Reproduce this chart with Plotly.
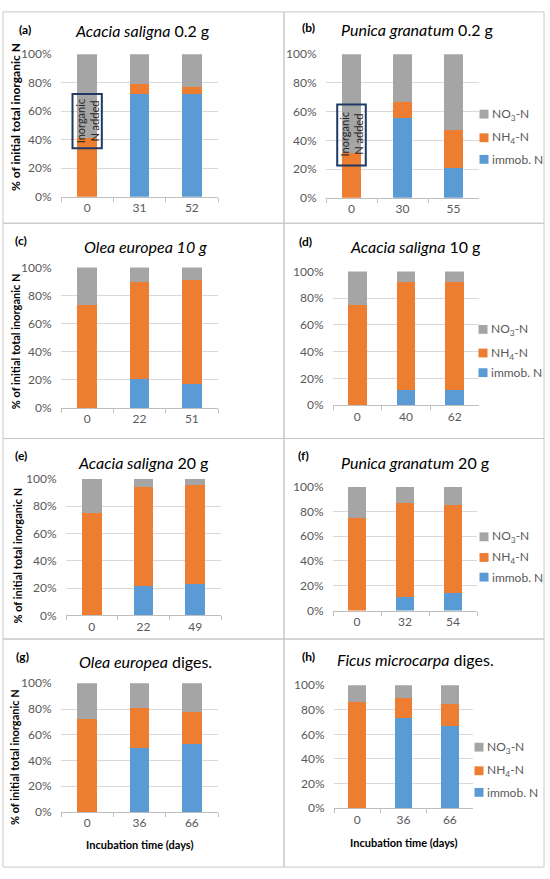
import plotly.graph_objects as go

# incubation days (categories) per panel
days_a = ["0", "31", "52"]
days_b = ["0", "30", "55"]
days_c = ["0", "22", "51"]
days_d = ["0", "40", "62"]
days_e = ["0", "22", "49"]
days_f = ["0", "32", "54"]
days_g = ["0", "36", "66"]
days_h = ["0", "36", "66"]

# % of initial total inorganic N
immob_a = [0, 72, 72]
nh4_a = [41, 7, 5]
no3_a = [59, 21, 23]

immob_b = [0, 55.5, 21]
nh4_b = [31, 11, 26.5]
no3_b = [69, 33.5, 52.5]

immob_c = [0, 21, 17]
nh4_c = [73, 69, 74]
no3_c = [27, 10, 9]

immob_d = [0, 11, 11]
nh4_d = [75, 81, 81]
no3_d = [25, 8, 8]

immob_e = [0, 21.5, 23]
nh4_e = [75, 72.5, 72.5]
no3_e = [25, 6, 4.5]

immob_f = [0, 11, 14.5]
nh4_f = [75, 76, 70.5]
no3_f = [25, 13, 15]

immob_g = [0, 50, 53]
nh4_g = [72, 31, 24.5]
no3_g = [28, 19, 22.5]

immob_h = [0, 73, 67]
nh4_h = [86, 17, 18]
no3_h = [14, 10, 15]

series_names = ["immob. N", "NH<sub>4</sub>-N", "NO<sub>3</sub>-N"]

W, H = 550, 879
FONT = "Lato"
C_IMMOB, C_NH4, C_NO3 = "#5B9BD5", "#ED7D31", "#A5A5A5"
TXT = "#595959"
GRID = "#D9D9D9"
FRAME = "#C8C8C8"


def fx(v):
    return v / W


def fy(v):
    return 1 - v / H


panels = [
    dict(tag="(a)", title="<i>Acacia saligna</i> 0.2 g", days=days_a,
         vals=(immob_a, nh4_a, no3_a), area=(61, 218, 47, 192),
         title_at=(142, 23), tag_at=(25, 22), ytitle=(15, 111, 12)),
    dict(tag="(b)", title="<i>Punica granatum</i> 0.2 g", days=days_b,
         vals=(immob_b, nh4_b, no3_b), area=(326, 479, 47, 193),
         title_at=(417, 22), tag_at=(308, 20), legend=(484, [108, 132, 154])),
    dict(tag="(c)", title="<i>Olea europea 10 g</i>", days=days_c,
         vals=(immob_c, nh4_c, no3_c), area=(61, 218, 264, 407),
         title_at=(145, 243), tag_at=(21, 237), ytitle=(15, 339, 11)),
    dict(tag="(d)", title="<i>Acacia saligna</i> 10 g", days=days_d,
         vals=(immob_d, nh4_d, no3_d), area=(333, 479, 268, 404),
         title_at=(415, 243), tag_at=(305, 238), legend=(483, [327, 351, 371])),
    dict(tag="(e)", title="<i>Acacia saligna</i> 20 g", days=days_e,
         vals=(immob_e, nh4_e, no3_e), area=(66, 221, 479, 618),
         title_at=(143, 462), tag_at=(21, 455), ytitle=(17, 557, 11)),
    dict(tag="(f)", title="<i>Punica granatum</i> 20 g", days=days_f,
         vals=(immob_f, nh4_f, no3_f), area=(333, 477, 487, 613),
         title_at=(415, 462), tag_at=(303, 455), legend=(484, [538, 559, 579])),
    dict(tag="(g)", title="<i>Olea europea</i> diges.", days=days_g,
         vals=(immob_g, nh4_g, no3_g), area=(61, 218, 687, 818),
         title_at=(145, 665), tag_at=(22, 660), ytitle=(15, 762, 11),
         xtitle=(140, 851)),
    dict(tag="(h)", title="<i>Ficus microcarpa</i> diges.", days=days_h,
         vals=(immob_h, nh4_h, no3_h), area=(334, 473, 689, 814),
         title_at=(415, 663), tag_at=(308, 660), legend=(479, [752, 776, 798]),
         xtitle=(403, 849)),
]

fig = go.Figure()
annotations = []
shapes = []

# cell frames
for x0, x1, y0, y1 in [(3, 284, 4, 219), (284, 544, 4, 219),
                       (3, 284, 219, 438), (284, 544, 219, 438),
                       (3, 284, 438, 642), (284, 544, 438, 642),
                       (3, 284, 642, 874), (284, 544, 642, 874)]:
    shapes.append(dict(type="rect", xref="paper", yref="paper",
                       x0=fx(x0), x1=fx(x1), y0=fy(y1), y1=fy(y0),
                       line=dict(color=FRAME, width=1)))

colors = [C_IMMOB, C_NH4, C_NO3]
for i, p in enumerate(panels):
    n = "" if i == 0 else str(i + 1)
    xa, ya = "x" + n, "y" + n
    for name, vals, col in zip(series_names, p["vals"], colors):
        fig.add_trace(go.Bar(x=p["days"], y=vals, name=name, marker_color=col,
                             marker_line_width=0, xaxis=xa, yaxis=ya,
                             showlegend=False, width=0.38))
    x0, x1, y0, y1 = p["area"]
    fig.layout["xaxis" + n] = dict(
        domain=[fx(x0), fx(x1)], anchor=ya, type="category",
        showline=True, linecolor="#BFBFBF", ticks="outside", tickson="boundaries",
        ticklen=4, tickcolor="#BFBFBF", showgrid=False,
        tickfont=dict(family=FONT, size=12, color=TXT))
    fig.layout["yaxis" + n] = dict(
        domain=[fy(y1), fy(y0)], anchor=xa, range=[0, 100], dtick=20,
        ticksuffix="%", showgrid=True, gridcolor=GRID, zeroline=False,
        showline=False, ticks="outside", ticklen=6, tickcolor="rgba(0,0,0,0)",
        tickfont=dict(family=FONT, size=12, color=TXT))

    annotations.append(dict(xref="paper", yref="paper", x=fx(p["title_at"][0]),
                            y=fy(p["title_at"][1]), text=p["title"], showarrow=False,
                            xanchor="center", yanchor="middle",
                            font=dict(family=FONT, size=16, color="#000000")))
    annotations.append(dict(xref="paper", yref="paper", x=fx(p["tag_at"][0]),
                            y=fy(p["tag_at"][1]), text="<b>" + p["tag"] + "</b>",
                            showarrow=False, xanchor="center", yanchor="middle",
                            font=dict(family=FONT, size=12, color="#000000")))
    if "ytitle" in p:
        tx, ty, ts = p["ytitle"]
        annotations.append(dict(xref="paper", yref="paper", x=fx(tx), y=fy(ty),
                                text="<b>% of initial total inorganic N</b>",
                                textangle=-90, showarrow=False,
                                xanchor="center", yanchor="middle",
                                font=dict(family=FONT, size=ts, color="#000000")))
    if "xtitle" in p:
        tx, ty = p["xtitle"]
        annotations.append(dict(xref="paper", yref="paper", x=fx(tx), y=fy(ty),
                                text="<b>Incubation time (days)</b>", showarrow=False,
                                xanchor="center", yanchor="middle",
                                font=dict(family=FONT, size=11, color="#000000")))
    if "legend" in p:
        lx, lys = p["legend"]
        for name, col, ly in zip(series_names[::-1], colors[::-1], lys):
            shapes.append(dict(type="rect", xref="paper", yref="paper",
                               x0=fx(lx - 4.5), x1=fx(lx + 4.5),
                               y0=fy(ly + 4.5), y1=fy(ly - 4.5),
                               fillcolor=col, line=dict(width=0)))
            annotations.append(dict(xref="paper", yref="paper", x=fx(lx + 6),
                                    y=fy(ly), text=name, showarrow=False,
                                    xanchor="left", yanchor="middle",
                                    font=dict(family=FONT, size=12, color=TXT)))

# "Inorganic N added" boxes on day 0 of panels (a) and (b)
for xa, ya, y0, y1 in [("x", "y", 34, 72), ("x2", "y2", 22.5, 65)]:
    shapes.append(dict(type="rect", xref=xa, yref=ya, x0=-0.28, x1=0.28,
                       y0=y0, y1=y1, line=dict(color="#1F3864", width=2)))
    annotations.append(dict(xref=xa, yref=ya, x=0, y=(y0 + y1) / 2,
                            text="Inorganic<br>N added", textangle=-90,
                            showarrow=False, xanchor="center", yanchor="middle",
                            font=dict(family=FONT, size=11, color="#262626")))

fig.update_layout(
    barmode="stack", width=W, height=H, margin=dict(l=0, r=0, t=0, b=0),
    paper_bgcolor="white", plot_bgcolor="white", showlegend=False,
    annotations=annotations, shapes=shapes,
    font=dict(family=FONT, color=TXT),
)

fig.write_html("out.html", config={"displayModeBar": False},
               post_script="document.body.style.margin='0';")
